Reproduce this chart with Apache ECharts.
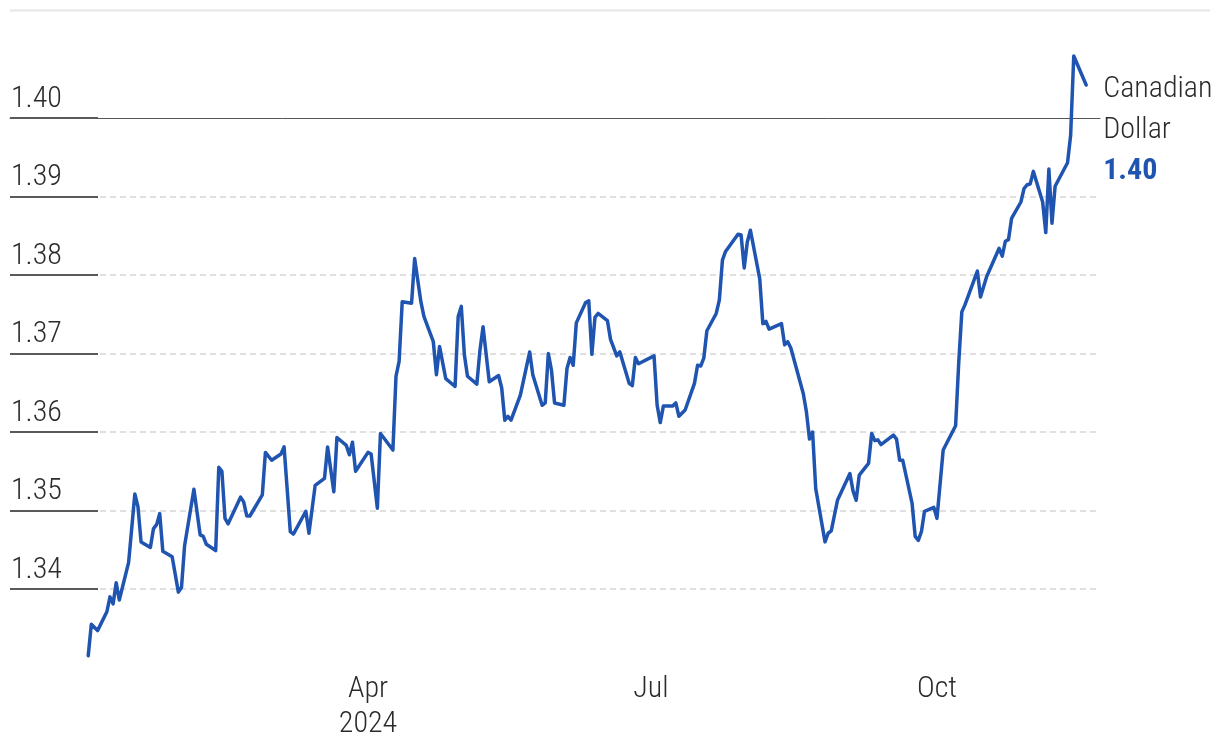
<!DOCTYPE html>
<html>
<head>
<meta charset="utf-8">
<script src="https://cdn.jsdelivr.net/npm/echarts@6/dist/echarts.min.js"></script>
<style>
  html, body { margin: 0; padding: 0; background: #fff; }
  #chart { width: 1220px; height: 756px; }
</style>
</head>
<body>
<div id="chart"></div>
<script>
// ---- data (USD/CAD) ----
const dates = [
  '2024-01-02','2024-01-03','2024-01-05','2024-01-08','2024-01-09','2024-01-10','2024-01-11','2024-01-12','2024-01-15','2024-01-17','2024-01-18','2024-01-19','2024-01-22','2024-01-23','2024-01-24','2024-01-25','2024-01-26','2024-01-29','2024-01-31',
  '2024-02-01','2024-02-02','2024-02-05','2024-02-07','2024-02-08','2024-02-09','2024-02-12','2024-02-13','2024-02-14','2024-02-15','2024-02-16','2024-02-20','2024-02-21','2024-02-22','2024-02-23','2024-02-27','2024-02-28',
  '2024-03-01','2024-03-04','2024-03-05','2024-03-07','2024-03-08','2024-03-12','2024-03-13','2024-03-15','2024-03-18','2024-03-19','2024-03-21','2024-03-22','2024-03-25','2024-03-26','2024-03-27','2024-03-28',
  '2024-04-01','2024-04-02','2024-04-04','2024-04-05','2024-04-09','2024-04-10','2024-04-11','2024-04-12','2024-04-15','2024-04-16','2024-04-18','2024-04-19','2024-04-22','2024-04-23','2024-04-24','2024-04-26','2024-04-29','2024-04-30',
  '2024-05-01','2024-05-02','2024-05-03','2024-05-06','2024-05-07','2024-05-08','2024-05-10','2024-05-13','2024-05-14','2024-05-15','2024-05-16','2024-05-17','2024-05-20','2024-05-23','2024-05-24','2024-05-27','2024-05-28','2024-05-29','2024-05-30','2024-05-31',
  '2024-06-03','2024-06-04','2024-06-05','2024-06-06','2024-06-07','2024-06-10','2024-06-11','2024-06-12','2024-06-13','2024-06-14','2024-06-17','2024-06-18','2024-06-20','2024-06-21','2024-06-24','2024-06-25','2024-06-26','2024-06-27',
  '2024-07-02','2024-07-03','2024-07-04','2024-07-05','2024-07-08','2024-07-09','2024-07-10','2024-07-12','2024-07-15','2024-07-16','2024-07-17','2024-07-18','2024-07-19','2024-07-22','2024-07-23','2024-07-24','2024-07-25','2024-07-29','2024-07-30','2024-07-31',
  '2024-08-01','2024-08-02','2024-08-05','2024-08-06','2024-08-07','2024-08-08','2024-08-12','2024-08-13','2024-08-14','2024-08-15','2024-08-19','2024-08-20','2024-08-21','2024-08-22','2024-08-23','2024-08-26','2024-08-27','2024-08-28','2024-08-30',
  '2024-09-03','2024-09-04','2024-09-05','2024-09-06','2024-09-09','2024-09-10','2024-09-11','2024-09-12','2024-09-13','2024-09-17','2024-09-18','2024-09-19','2024-09-20','2024-09-23','2024-09-24','2024-09-25','2024-09-26','2024-09-27','2024-09-30',
  '2024-10-01','2024-10-03','2024-10-07','2024-10-08','2024-10-09','2024-10-10','2024-10-14','2024-10-15','2024-10-17','2024-10-21','2024-10-22','2024-10-23','2024-10-24','2024-10-25','2024-10-28','2024-10-29','2024-10-30','2024-10-31',
  '2024-11-01','2024-11-04','2024-11-05','2024-11-06','2024-11-07','2024-11-08','2024-11-12','2024-11-13','2024-11-14','2024-11-18'
];
const rates = [
  1.3315,1.3355,1.3347,1.3371,1.3390,1.3381,1.3408,1.3386,1.3434,1.3521,1.3505,1.3460,1.3453,1.3477,1.3482,1.3496,1.3448,1.3441,1.3396,
  1.3402,1.3455,1.3527,1.3469,1.3467,1.3457,1.3449,1.3555,1.3550,1.3490,1.3483,1.3517,1.3511,1.3493,1.3493,1.3520,1.3574,
  1.3564,1.3572,1.3581,1.3473,1.3470,1.3499,1.3471,1.3532,1.3541,1.3581,1.3524,1.3593,1.3583,1.3571,1.3587,1.3550,
  1.3574,1.3572,1.3503,1.3598,1.3577,1.3671,1.3690,1.3766,1.3764,1.3821,1.3766,1.3747,1.3715,1.3673,1.3709,1.3668,1.3658,1.3747,
  1.3760,1.3698,1.3671,1.3661,1.3704,1.3734,1.3664,1.3672,1.3656,1.3615,1.3620,1.3615,1.3647,1.3702,1.3673,1.3634,1.3637,1.3700,1.3679,1.3637,
  1.3634,1.3681,1.3695,1.3685,1.3739,1.3765,1.3767,1.3699,1.3746,1.3751,1.3742,1.3718,1.3697,1.3702,1.3662,1.3659,1.3695,1.3687,
  1.3697,1.3634,1.3612,1.3633,1.3633,1.3637,1.3620,1.3628,1.3662,1.3685,1.3684,1.3694,1.3729,1.3751,1.3768,1.3819,1.3830,1.3852,1.3851,1.3809,
  1.3842,1.3857,1.3795,1.3738,1.3741,1.3731,1.3738,1.3711,1.3715,1.3707,1.3649,1.3626,1.3591,1.3600,1.3528,1.3460,1.3471,1.3474,1.3513,
  1.3547,1.3525,1.3513,1.3545,1.3560,1.3598,1.3589,1.3590,1.3584,1.3596,1.3591,1.3564,1.3564,1.3509,1.3467,1.3462,1.3473,1.3499,1.3504,
  1.3490,1.3577,1.3608,1.3688,1.3753,1.3762,1.3805,1.3772,1.3798,1.3834,1.3824,1.3843,1.3845,1.3872,1.3893,1.3910,1.3915,1.3916,
  1.3932,1.3893,1.3854,1.3935,1.3866,1.3913,1.3943,1.3978,1.4079,1.4042
];
const seriesName = ['Canadian', 'Dollar'];
const xTickDates = ['2024-04-01', '2024-07-01', '2024-10-01'];
const xTickLabels = ['Apr\n2024', 'Jul', 'Oct'];
const yTicks = [1.34, 1.35, 1.36, 1.37, 1.38, 1.39, 1.40];
const xRange = ['2024-01-01', '2024-12-01'];
const yRange = [1.33, 1.41];

// ---- helpers ----
function ts(s) { const p = s.split('-').map(Number); return Date.UTC(p[0], p[1] - 1, p[2]); }
const lineData = dates.map((d, i) => [ts(d), rates[i]]);
const tickTs = xTickDates.map(ts);

const FONT = '"Roboto Condensed", "DejaVu Sans Condensed", sans-serif';
const BLUE = '#1f54b0';
const TEXT = '#2b2b2b';

const chart = echarts.init(document.getElementById('chart'), null, { renderer: 'canvas' });
chart.setOption({
  animation: false,
  backgroundColor: '#ffffff',
  textStyle: { fontFamily: FONT, fontWeight: 300 },
  graphic: [{
    type: 'line', silent: true, z: 0,
    shape: { x1: 10, y1: 10.5, x2: 1210, y2: 10.5 },
    style: { stroke: '#e5e5e5', lineWidth: 2 }
  }],
  grid: [
    { left: 85.1, right: 93.4, top: 39.5, bottom: 88.5 },   // plot
    { left: 10, right: 120, top: 118, bottom: 167 }         // value gridlines 1.34..1.40
  ],
  xAxis: [
    {
      type: 'value', gridIndex: 0,
      min: ts(xRange[0]), max: ts(xRange[1]),
      axisLine: { show: false }, axisTick: { show: false }, splitLine: { show: false },
      axisLabel: {
        customValues: tickTs,
        formatter: (v) => { const i = tickTs.indexOf(v); return i >= 0 ? xTickLabels[i] : ''; },
        color: TEXT, fontSize: 30, fontWeight: 300, lineHeight: 35, fontFamily: FONT, margin: 4,
        verticalAlign: 'top'
      }
    },
    {
      type: 'value', gridIndex: 1, position: 'top', min: 0, max: 1,
      axisLine: { show: true, lineStyle: { color: '#555555', width: 1 } },
      axisTick: { show: false }, axisLabel: { show: false }, splitLine: { show: false }
    }
  ],
  yAxis: [
    { type: 'value', gridIndex: 0, min: yRange[0], max: yRange[1], show: false },
    {
      type: 'value', gridIndex: 1, min: yTicks[0], max: yTicks[yTicks.length - 1], interval: 0.01,
      axisLine: { show: false },
      axisTick: { show: true, inside: true, length: 88, lineStyle: { color: '#5a5a5a', width: 2 } },
      axisLabel: {
        inside: true, margin: 1, align: 'left', verticalAlign: 'bottom',
        padding: [0, 0, 4, 0],
        formatter: (v) => v.toFixed(2),
        color: TEXT, fontSize: 30, fontWeight: 300, fontFamily: FONT
      },
      splitLine: {
        show: true, showMaxLine: false, showMinLine: true,
        lineStyle: { color: '#e0e0e0', width: 2, type: [6, 4] }
      }
    }
  ],
  series: [{
    type: 'line', xAxisIndex: 0, yAxisIndex: 0,
    data: lineData, showSymbol: false, symbol: 'none',
    lineStyle: { color: BLUE, width: 3.5, join: 'round', cap: 'round' },
    itemStyle: { color: BLUE },
    z: 5,
    endLabel: {
      show: true, distance: 0,
      align: 'left', verticalAlign: 'middle', offset: [17, 45],
      formatter: (p) => seriesName.join('\n') + '\n{v|' + p.value[1].toFixed(2) + '}',
      color: TEXT, fontSize: 30, fontWeight: 300, lineHeight: 41, fontFamily: FONT,
      rich: { v: { color: BLUE, fontSize: 30, fontWeight: 'bold', lineHeight: 41, fontFamily: FONT } }
    }
  }]
});
</script>
</body>
</html>
